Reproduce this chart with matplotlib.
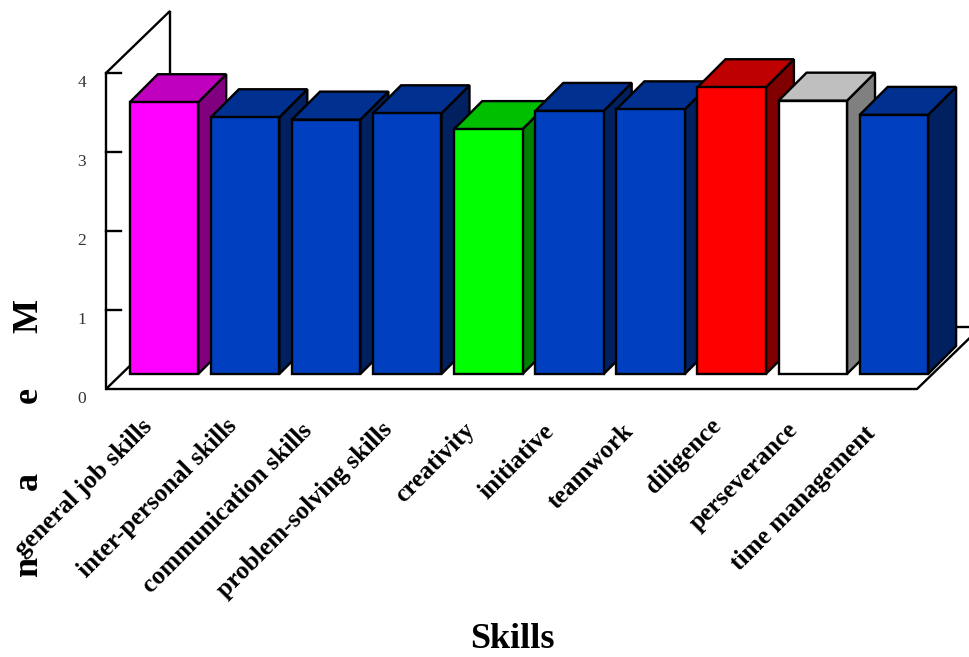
import matplotlib
matplotlib.use('Agg')
import matplotlib.pyplot as plt
from matplotlib.patches import Polygon

skills = ['general job skills', 'inter-personal skills', 'communication skills',
          'problem-solving skills', 'creativity', 'initiative', 'teamwork',
          'diligence', 'perseverance', 'time management']
means = [3.44, 3.25, 3.22, 3.30, 3.10, 3.33, 3.35, 3.63, 3.46, 3.28]
bar_colors = ['#ff00ff', '#0040c0', '#0040c0', '#0040c0', '#00ff00',
              '#0040c0', '#0040c0', '#ff0000', '#ffffff', '#0040c0']
yticks = [0, 1, 2, 3, 4]
# where each rotated label ends, in pixels from the top left
label_ends = [(149, 423), (233, 422), (309, 427), (389, 426), (471, 427),
              (550, 428), (630, 428), (718, 422), (794, 426), (872, 430)]
ylabel_letters = ['M', 'e', 'a', 'n']
ylabel_pos = [316, 395, 481, 566]

plt.rcParams['font.family'] = ['Liberation Serif', 'DejaVu Serif']

W, H = 970, 657
XU, YU = 81.1, 79.0  # pixels per category / per unit
X0, Y0 = 164.0, 389.0  # pixel of category 0, pixel of value 0

fig = plt.figure(figsize=(W / 100, H / 100), dpi=100)
ax = fig.add_axes([0, 0, 1, 1])
ax.set_xlim(-X0 / XU, (W - X0) / XU)
ax.set_ylim((Y0 - H) / YU, Y0 / YU)
ax.axis('off')


def px(x, y):
    return (x - X0) / XU, (Y0 - y) / YU


def shade(c, f):
    r, g, b = matplotlib.colors.to_rgb(c)
    return (r * f, g * f, b * f)


lw = 1.7
# walls and floor
left = (106 - X0) / XU
right = (917 - X0) / XU
wx = 64 / XU
wy = 62 / YU
wall = dict(color='black', lw=lw, solid_joinstyle='miter', zorder=1)
ax.plot([left, left, left + wx, left + wx], [0, 4, 4 + wy, wy], **wall)
ax.plot([left + wx, left, right, right + wx, left + wx],
        [wy, 0, 0, wy, wy], **wall)
for v in yticks[1:]:
    ax.plot([left, left + 15 / XU], [v, v], color='black', lw=lw, zorder=1)
for v in yticks:
    x, y = px(82, 0)
    ax.text(x, v - 10 / YU, str(v), ha='center', va='center', fontsize=12.5,
            color='#333333')

# bars, left to right so each front covers the previous side face
half = 34.2 / XU
base = 15 / YU
dx = 28 / XU
dy = 28 / YU
for i, (m, c) in enumerate(zip(means, bar_colors)):
    x0, x1 = i - half, i + half
    y0, y1 = base, base + m
    z = 2 + i
    edge = dict(edgecolor='black', linewidth=lw, joinstyle='miter', zorder=z)
    ax.add_patch(Polygon([(x1, y0), (x1 + dx, y0 + dy), (x1 + dx, y1 + dy), (x1, y1)],
                         facecolor=shade(c, 0.5), **edge))
    ax.add_patch(Polygon([(x0, y1), (x0 + dx, y1 + dy), (x1 + dx, y1 + dy), (x1, y1)],
                         facecolor=shade(c, 0.75), **edge))
    ax.add_patch(Polygon([(x0, y0), (x1, y0), (x1, y1), (x0, y1)],
                         facecolor=c, **edge))

for name, (ex, ey) in zip(skills, label_ends):
    x, y = px(ex, ey)
    ax.text(x, y, name, rotation=45, rotation_mode='anchor', ha='right', va='center',
            fontsize=18.3, fontweight='bold', color='black')

for ch, py in zip(ylabel_letters, ylabel_pos):
    x, y = px(37, py)
    ax.text(x, y, ch, rotation=90, rotation_mode='anchor', ha='center', va='baseline',
            fontsize=26, fontweight='bold', color='black')

x, y = px(512, 648.5)
ax.text(x, y, 'Skills', ha='center', va='baseline', fontsize=26, fontweight='bold',
        color='black')

fig.savefig('out.png', dpi=100)
